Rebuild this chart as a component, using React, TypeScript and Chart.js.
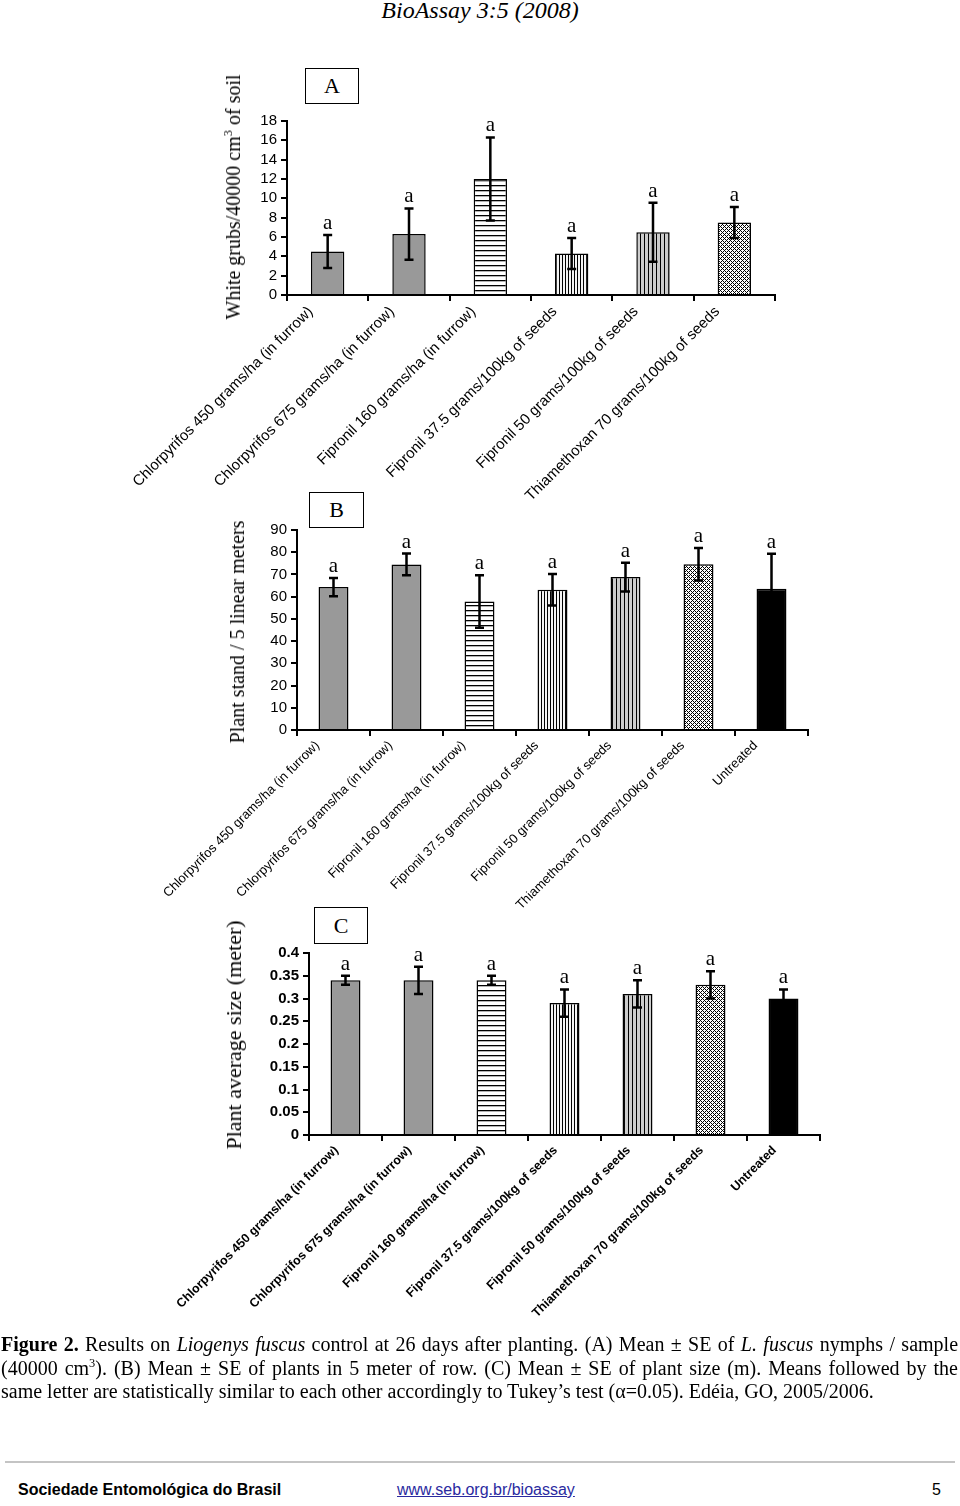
import React, { useEffect, useRef } from 'react';
import { Chart, registerables } from 'chart.js';

Chart.register(...registerables);

// ---------- data ----------
const categoriesA = [
  'Chlorpyrifos 450 grams/ha (in furrow)',
  'Chlorpyrifos 675 grams/ha (in furrow)',
  'Fipronil 160 grams/ha (in furrow)',
  'Fipronil 37.5 grams/100kg of seeds',
  'Fipronil 50 grams/100kg of seeds',
  'Thiamethoxan 70 grams/100kg of seeds',
];
const categoriesBC = [...categoriesA, 'Untreated'];

const meansA = [4.5, 6.3, 12.0, 4.3, 6.5, 7.5];
const errorsA = [1.7, 2.65, 4.3, 1.6, 3.05, 1.6];
const lettersA = ['a', 'a', 'a', 'a', 'a', 'a'];

const meansB = [64.3, 74.5, 57.8, 63.1, 68.8, 74.6, 63.6];
const errorsB = [4.1, 4.9, 11.8, 7.1, 6.5, 7.3, 15.7];
const lettersB = ['a', 'a', 'a', 'a', 'a', 'a', 'a'];

const meansC = [0.34, 0.34, 0.34, 0.29, 0.31, 0.33, 0.3];
const errorsC = [0.01, 0.03, 0.01, 0.03, 0.03, 0.03, 0.02];
const lettersC = ['a', 'a', 'a', 'a', 'a', 'a', 'a'];

const yAxisA = [0, 18, 2]; // min, max, step
const yAxisB = [0, 90, 10];
const yAxisC = [0, 0.4, 0.05];
const yTickLabelsA = ['0', '2', '4', '6', '8', '10', '12', '14', '16', '18'];
const yTickLabelsB = ['0', '10', '20', '30', '40', '50', '60', '70', '80', '90'];
const yTickLabelsC = ['0', '0.05', '0.1', '0.15', '0.2', '0.25', '0.3', '0.35', '0.4'];

// ---------- styles ----------
const fillsA = ['gray', 'gray', 'hstripe', 'vdense', 'vsparse', 'checker'];
const fillsBC = [...fillsA, 'black'];

const SANS = '"Liberation Sans", Arial, sans-serif';
const SERIF = '"Liberation Serif", "Times New Roman", serif';

function makeFill(kind: string): string | CanvasPattern {
  if (kind === 'gray') return '#999999';
  if (kind === 'black') return '#000000';
  const c = document.createElement('canvas');
  let w = 4, h = 4;
  if (kind === 'hstripe') { w = 5; h = 5; }
  if (kind === 'vdense') { w = 3; h = 3; }
  c.width = w; c.height = h;
  const g = c.getContext('2d')!;
  if (kind === 'hstripe') {
    g.fillStyle = '#ffffff'; g.fillRect(0, 0, w, h);
    g.fillStyle = '#000000'; g.fillRect(0, 0, w, 1.3);
  } else if (kind === 'vdense') {
    g.fillStyle = '#f4f4f4'; g.fillRect(0, 0, w, h);
    g.fillStyle = '#000000'; g.fillRect(0, 0, 1, h);
  } else if (kind === 'vsparse') {
    g.fillStyle = '#cccccc'; g.fillRect(0, 0, w, h);
    g.fillStyle = '#000000'; g.fillRect(0, 0, 1, h);
  } else {
    g.fillStyle = '#ffffff'; g.fillRect(0, 0, w, h);
    g.fillStyle = '#000000';
    for (let x = 0; x < 4; x++) {
      for (let y = 0; y < 4; y++) {
        if ((x + y) % 4 === 0 || (x - y + 4) % 4 === 0) g.fillRect(x, y, 1, 1);
      }
    }
  }
  return g.createPattern(c, 'repeat')!;
}

type PanelProps = {
  left: number; top: number; width: number; height: number;
  area: { left: number; top: number; right: number; bottom: number };
  labels: string[]; means: number[]; errors: number[]; letters: string[]; fills: string[];
  yAxis: number[]; yTickLabels: string[];
  tickFont: any; labelFont: any; labelOffset: number; barPct: number;
};

function Panel(p: PanelProps) {
  const ref = useRef<HTMLCanvasElement>(null);
  useEffect(() => {
    const canvas = ref.current!;
    const aL = p.area.left - p.left;
    const aT = p.area.top - p.top;
    const aR = p.area.right - p.left;
    const aB = p.area.bottom - p.top;
    const yW = 80;
    const errorPlugin = {
      id: 'errbars',
      afterDatasetsDraw(chart: any) {
        const { ctx } = chart;
        const x = chart.scales.x;
        const y = chart.scales.y;
        ctx.save();
        p.means.forEach((m, i) => {
          const cx = x.getPixelForValue(i);
          const yt = y.getPixelForValue(m + p.errors[i]);
          const yb = y.getPixelForValue(m - p.errors[i]);
          ctx.strokeStyle = '#000';
          ctx.lineWidth = 2.5;
          ctx.beginPath();
          ctx.moveTo(cx, yt); ctx.lineTo(cx, yb);
          ctx.moveTo(cx - 4.5, yt); ctx.lineTo(cx + 4.5, yt);
          ctx.moveTo(cx - 4.5, yb); ctx.lineTo(cx + 4.5, yb);
          ctx.stroke();
          ctx.fillStyle = '#000';
          ctx.font = '21px ' + SERIF;
          ctx.textAlign = 'center';
          ctx.textBaseline = 'alphabetic';
          ctx.fillText(p.letters[i], cx, yt - 6);
        });
        ctx.restore();
      },
    };
    const chart = new Chart(canvas, {
      type: 'bar',
      data: {
        labels: p.labels,
        datasets: [{
          data: p.means,
          backgroundColor: p.fills.map(makeFill) as any,
          borderColor: '#000',
          borderWidth: 1.5,
          barPercentage: p.barPct,
          categoryPercentage: 1,
        }],
      },
      options: {
        animation: false,
        responsive: false,
        maintainAspectRatio: false,
        devicePixelRatio: 1,
        layout: { padding: { left: aL - yW, top: aT, right: p.width - aR, bottom: 0 } },
        plugins: { legend: { display: false }, tooltip: { enabled: false }, title: { display: false } },
        scales: {
          x: {
            grid: { display: true, drawOnChartArea: false, drawTicks: true, tickLength: 6, color: '#000', lineWidth: 2, offset: true },
            border: { display: true, color: '#000', width: 2 },
            ticks: { autoSkip: false, maxRotation: 45, minRotation: 45, color: '#000', font: p.labelFont, labelOffset: p.labelOffset, padding: 2 },
            afterFit: (s: any) => { s.height = p.height - aB; },
          },
          y: {
            min: p.yAxis[0], max: p.yAxis[1],
            ticks: {
              stepSize: p.yAxis[2], autoSkip: false, color: '#000', font: p.tickFont, padding: 4,
              callback: (_v: any, i: number) => p.yTickLabels[i],
            },
            grid: { display: true, drawOnChartArea: false, drawTicks: true, tickLength: 6, color: '#000', lineWidth: 2 },
            border: { display: true, color: '#000', width: 2 },
            afterFit: (s: any) => { s.width = yW; },
          },
        },
      } as any,
      plugins: [errorPlugin],
    });
    return () => chart.destroy();
  }, []);
  return (
    <canvas
      ref={ref}
      width={p.width}
      height={p.height}
      style={{ position: 'absolute', left: p.left, top: p.top, width: p.width, height: p.height }}
    />
  );
}

function YTitle({ cx, cy, size, children }: { cx: number; cy: number; size: number; children: any }) {
  return (
    <div style={{
      position: 'absolute', left: cx, top: cy, transform: 'translate(-50%, -50%) rotate(-90deg)',
      whiteSpace: 'nowrap', fontFamily: SERIF, fontSize: size, lineHeight: 1, color: '#000',
    }}>{children}</div>
  );
}

function LetterBox({ left, top, w, h, text }: { left: number; top: number; w: number; h: number; text: string }) {
  return (
    <div style={{
      position: 'absolute', left, top, width: w, height: h, boxSizing: 'border-box', border: '1.5px solid #000',
      display: 'flex', alignItems: 'center', justifyContent: 'center', fontFamily: SERIF, fontSize: 22, color: '#000', background: '#fff',
    }}>{text}</div>
  );
}

const supStyle: any = { fontSize: '0.62em', verticalAlign: 'super', lineHeight: 0 };

export default function App() {
  const lineBase: any = {
    position: 'absolute', left: 1, width: 957, height: 23.5, lineHeight: '23.5px', fontFamily: SERIF, fontSize: 20,
    whiteSpace: 'nowrap', color: '#000',
  };
  const justified: any = { ...lineBase, textAlign: 'justify', textAlignLast: 'justify', whiteSpace: 'normal' };
  return (
    <div style={{ position: 'absolute', left: 0, top: 0, width: 960, height: 1506, background: '#fff', overflow: 'hidden' }}>
      <div style={{ position: 'absolute', left: 0, top: -1, width: 960, textAlign: 'center', fontFamily: SERIF, fontStyle: 'italic', fontSize: 24, lineHeight: '22px', color: '#000' }}>
        BioAssay 3:5 (2008)
      </div>

      <Panel left={100} top={90} width={700} height={420}
        area={{ left: 287, top: 121, right: 775, bottom: 295 }}
        labels={categoriesA} means={meansA} errors={errorsA} letters={lettersA} fills={fillsA}
        yAxis={yAxisA} yTickLabels={yTickLabelsA}
        tickFont={{ family: SANS, size: 15 }} labelFont={{ family: SANS, size: 15 }} labelOffset={-17} barPct={0.41} />
      <YTitle cx={233} cy={197} size={20}>White grubs/40000 cm<span style={supStyle}>3</span> of soil</YTitle>
      <LetterBox left={305} top={68} w={54} h={36} text="A" />

      <Panel left={100} top={500} width={730} height={420}
        area={{ left: 297, top: 530, right: 808, bottom: 730 }}
        labels={categoriesBC} means={meansB} errors={errorsB} letters={lettersB} fills={fillsBC}
        yAxis={yAxisB} yTickLabels={yTickLabelsB}
        tickFont={{ family: SANS, size: 15 }} labelFont={{ family: SANS, size: 13 }} labelOffset={-16} barPct={0.41} />
      <YTitle cx={237} cy={632} size={20}>Plant stand / 5 linear meters</YTitle>
      <LetterBox left={309} top={492} w={55} h={36} text="B" />

      <Panel left={100} top={920} width={740} height={420}
        area={{ left: 309, top: 953, right: 820, bottom: 1135 }}
        labels={categoriesBC} means={meansC} errors={errorsC} letters={lettersC} fills={fillsBC}
        yAxis={yAxisC} yTickLabels={yTickLabelsC}
        tickFont={{ family: SANS, size: 15, weight: 'bold' }} labelFont={{ family: SANS, size: 12.5, weight: 'bold' }} labelOffset={-9} barPct={0.41} />
      <YTitle cx={234} cy={1035} size={22}>Plant average size (meter)</YTitle>
      <LetterBox left={314} top={907} w={54} h={37} text="C" />

      <div style={{ ...justified, top: 1333 }}>
        <b>Figure 2.</b> Results on <i>Liogenys fuscus</i> control at 26 days after planting. (A) Mean ± SE of <i>L. fuscus</i> nymphs / sample
      </div>
      <div style={{ ...justified, top: 1356.5 }}>
        (40000 cm<span style={supStyle}>3</span>). (B) Mean ± SE of plants in 5 meter of row. (C) Mean ± SE of plant size (m). Means followed by the
      </div>
      <div style={{ ...lineBase, top: 1380 }}>
        same letter are statistically similar to each other accordingly to Tukey’s test (α=0.05). Edéia, GO, 2005/2006.
      </div>

      <div style={{ position: 'absolute', left: 5, top: 1461, width: 950, height: 2, background: '#c4c4c4' }} />
      <div style={{ position: 'absolute', left: 18, top: 1482, fontFamily: SANS, fontWeight: 'bold', fontSize: 16, lineHeight: '16px', color: '#000', whiteSpace: 'nowrap' }}>
        Sociedade Entomológica do Brasil
      </div>
      <div style={{ position: 'absolute', left: 397, top: 1482, fontFamily: SANS, fontSize: 16, lineHeight: '16px', color: '#2a2aa0', textDecoration: 'underline', whiteSpace: 'nowrap' }}>
        www.seb.org.br/bioassay
      </div>
      <div style={{ position: 'absolute', left: 932, top: 1482, fontFamily: SANS, fontSize: 16, lineHeight: '16px', color: '#000' }}>
        5
      </div>
    </div>
  );
}
